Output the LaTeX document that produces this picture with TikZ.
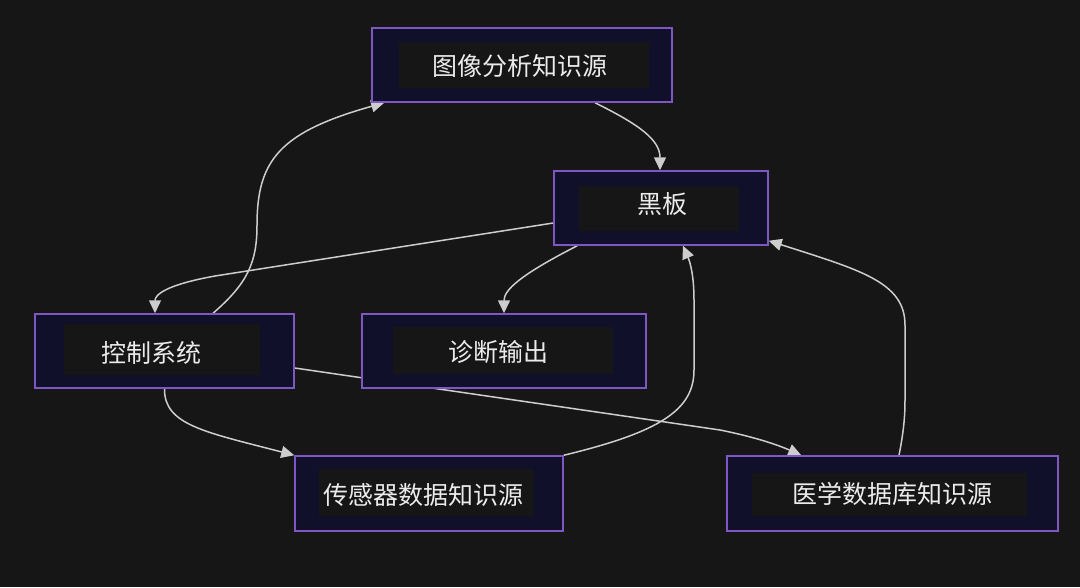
\documentclass[tikz,border=0pt]{standalone}
\usepackage{fontspec}
\newfontfamily\cjk{Noto Sans CJK SC}
\usetikzlibrary{arrows.meta,calc}
\definecolor{bgc}{RGB}{22,22,22}
\definecolor{nodefill}{RGB}{16,16,42}
\definecolor{nodeborder}{RGB}{126,87,194}
\definecolor{labelbg}{RGB}{22,22,22}
\definecolor{edgec}{RGB}{205,205,205}
\definecolor{textc}{RGB}{235,235,235}
\pgfdeclarelayer{bglayer}
\pgfdeclarelayer{edgelayer}
\pgfsetlayers{bglayer,edgelayer,main}
\tikzset{
  box/.style={draw=nodeborder, fill=nodefill, line width=1.5pt, rectangle, inner sep=0pt},
  lbl/.style={fill=labelbg, draw=none, rectangle, inner sep=0pt},
  txt/.style={text=textc, font=\cjk\fontsize{25pt}{30pt}\selectfont, inner sep=0pt},
  edge/.style={draw=edgec, line width=1.5pt, -{Triangle[length=13pt,width=12pt]}},
}
\begin{document}
\begin{tikzpicture}[x=1pt,y=-1pt]
\begin{pgfonlayer}{bglayer}
\fill[bgc] (0,0) rectangle (1080,587);
\end{pgfonlayer}
\useasboundingbox (0,0) rectangle (1080,587);

% outer boxes
\node[box, minimum width=300pt, minimum height=74pt] (A) at (522,65) {};
\node[box, minimum width=214pt, minimum height=74pt] (B) at (661,208) {};
\node[box, minimum width=259pt, minimum height=74pt] (C) at (164.5,351) {};
\node[box, minimum width=284pt, minimum height=74pt] (D) at (504,351) {};
\node[box, minimum width=268pt, minimum height=75pt] (E) at (429,493.5) {};
\node[box, minimum width=331pt, minimum height=75pt] (F) at (892.5,493.5) {};

% inner label backgrounds
\node[lbl, minimum width=250pt, minimum height=46pt] (Al) at (524,65) {};
\node[lbl, minimum width=160pt, minimum height=45pt] (Bl) at (659,208.5) {};
\node[lbl, minimum width=196pt, minimum height=51pt] (Cl) at (162,349.5) {};
\node[lbl, minimum width=220pt, minimum height=47pt] (Dl) at (503,350.5) {};
\node[lbl, minimum width=215pt, minimum height=47pt] (El) at (426.5,492.5) {};
\node[lbl, minimum width=275pt, minimum height=43pt] (Fl) at (889.5,494.5) {};

% texts
\node[txt] (At) at (520,66) {图像分析知识源};
\node[txt] (Bt) at (662,204.5) {黑板};
\node[txt] (Ct) at (151.5,352.5) {控制系统};
\node[txt] (Dt) at (498,352.5) {诊断输出};
\node[txt] (Et) at (423,495) {传感器数据知识源};
\node[txt] (Ft) at (892,493.5) {医学数据库知识源};

\begin{pgfonlayer}{edgelayer}
% 图像 -> 黑板
\draw[edge] ([xshift=73pt]A.south) .. controls (640,125) and (660,140) .. ([xshift=-1pt]B.north);
% 控制 -> 图像
\draw[edge] ([xshift=48.5pt]C.north) .. controls (248,283) and (257,262) .. (257,225)
   .. controls (257,160) and (280,132) .. ([xshift=13pt]A.south west);
% 黑板 -> 控制
\draw[edge] ([yshift=-15pt]B.west) -- (215,276) .. controls (165,285) and (155,295) .. ([xshift=-9.5pt]C.north);
% 黑板 -> 诊断
\draw[edge] ([xshift=24pt]B.south west) .. controls (520,275) and (504,290) .. (D.north);
% 控制 -> 传感器
\draw[edge] (C.south) .. controls (164,425) and (205,432) .. (E.north west);
% 控制 -> 医学
\draw[edge] ([yshift=-17pt]C.east) -- (720,430) .. controls (755,437) and (778,445) .. ([xshift=75pt]F.north west);
% 传感器 -> 黑板
\draw[edge] (E.north east) .. controls (660,432) and (694,410) .. (694,370) -- (694,300)
   .. controls (694,275) and (690,262) .. ([xshift=22pt]B.south);
% 医学 -> 黑板
\draw[edge] ([xshift=6.5pt]F.north) .. controls (904,430) and (905,415) .. (905,400) -- (905,325)
   .. controls (905,282) and (860,270) .. ([yshift=5pt]B.south east);
\end{pgfonlayer}
\end{tikzpicture}
\end{document}
